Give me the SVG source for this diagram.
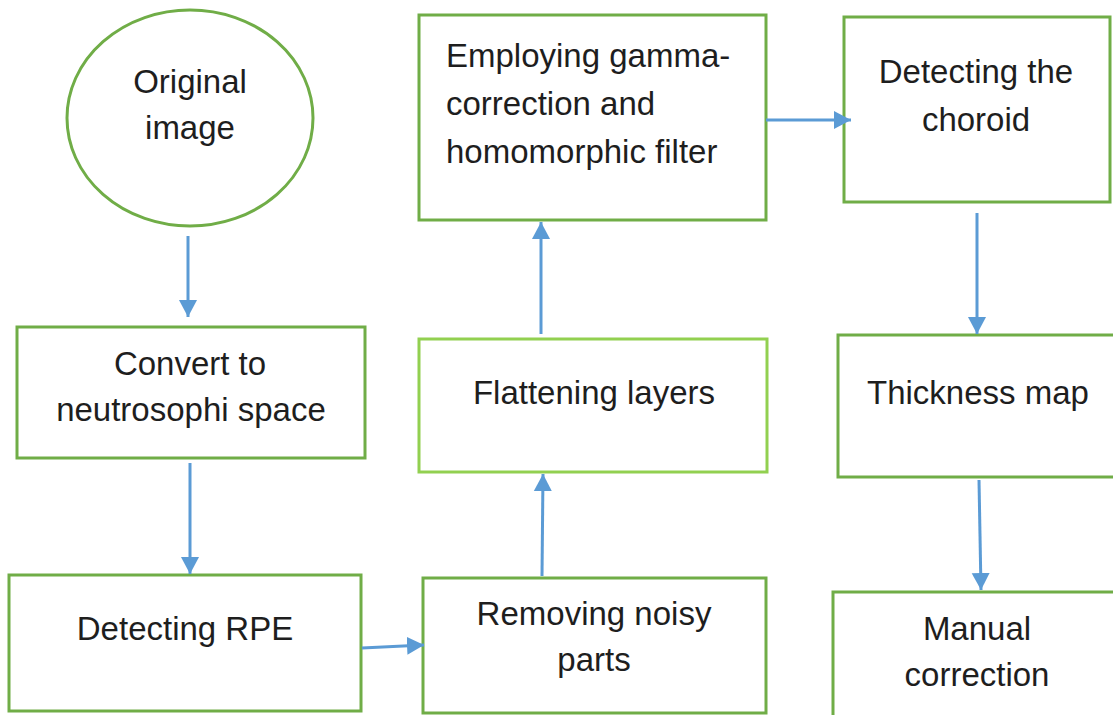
<svg xmlns="http://www.w3.org/2000/svg" width="1113" height="715" viewBox="0 0 1113 715">
<style>
.box{fill:#fff;stroke:#70AD47;stroke-width:3}
.box2{fill:#fff;stroke:#92D050;stroke-width:3}
.t{font-family:"Liberation Sans",Arial,sans-serif;font-size:33px;fill:#1e1e1e;text-anchor:middle}
.tl{font-family:"Liberation Sans",Arial,sans-serif;font-size:33px;fill:#1e1e1e;text-anchor:start}
.c{stroke:#5B9BD5;stroke-width:3;fill:none;marker-end:url(#ah)}
</style>
<defs>
<marker id="ah" markerUnits="userSpaceOnUse" markerWidth="20" markerHeight="20" viewBox="0 0 20 20" refX="17" refY="10" orient="auto">
<path d="M0,1 L17,10 L0,19 Z" fill="#5B9BD5"/>
</marker>
</defs>
<rect width="1113" height="715" fill="#fff"/>
<g id="original">
<ellipse cx="190" cy="118" rx="123" ry="108" fill="#fff" stroke="#70AD47" stroke-width="3"/>
<text class="t" x="190" y="93">Original</text>
<text class="t" x="190" y="139">image</text>
</g>
<g id="convert">
<rect class="box" x="17" y="327" width="348" height="131"/>
<text class="t" x="190" y="375">Convert to</text>
<text class="t" x="191" y="421">neutrosophi space</text>
</g>
<g id="rpe">
<rect class="box" x="9" y="575" width="352" height="136"/>
<text class="t" x="185" y="640">Detecting RPE</text>
</g>
<g id="removing">
<rect class="box" x="423" y="578" width="343" height="135"/>
<text class="t" x="594" y="625">Removing noisy</text>
<text class="t" x="594" y="671">parts</text>
</g>
<g id="flattening">
<rect class="box2" x="419" y="339" width="348" height="133"/>
<text class="t" x="594" y="404">Flattening layers</text>
</g>
<g id="employing">
<rect class="box" x="419" y="15" width="347" height="205"/>
<text class="tl" x="446" y="67">Employing gamma-</text>
<text class="tl" x="446" y="115">correction and</text>
<text class="tl" x="446" y="163">homomorphic filter</text>
</g>
<g id="choroid">
<rect class="box" x="844" y="17" width="266" height="185"/>
<text class="t" x="976" y="83">Detecting the</text>
<text class="t" x="976" y="131">choroid</text>
</g>
<g id="thickness">
<rect class="box" x="838" y="335" width="280" height="142"/>
<text class="t" x="978" y="404">Thickness map</text>
</g>
<g id="manual">
<rect class="box" x="833" y="592" width="285" height="130"/>
<text class="t" x="977" y="640">Manual</text>
<text class="t" x="977" y="686">correction</text>
</g>
<g id="connectors">
<line class="c" x1="188" y1="236" x2="188" y2="317"/>
<line class="c" x1="190" y1="463" x2="190" y2="574"/>
<line class="c" x1="362" y1="648" x2="424" y2="645"/>
<line class="c" x1="542" y1="576" x2="543" y2="474"/>
<line class="c" x1="541" y1="334" x2="541" y2="222"/>
<line class="c" x1="766" y1="120" x2="851" y2="120"/>
<line class="c" x1="977" y1="213" x2="977" y2="334"/>
<line class="c" x1="979" y1="480" x2="981" y2="590"/>
</g>
</svg>
